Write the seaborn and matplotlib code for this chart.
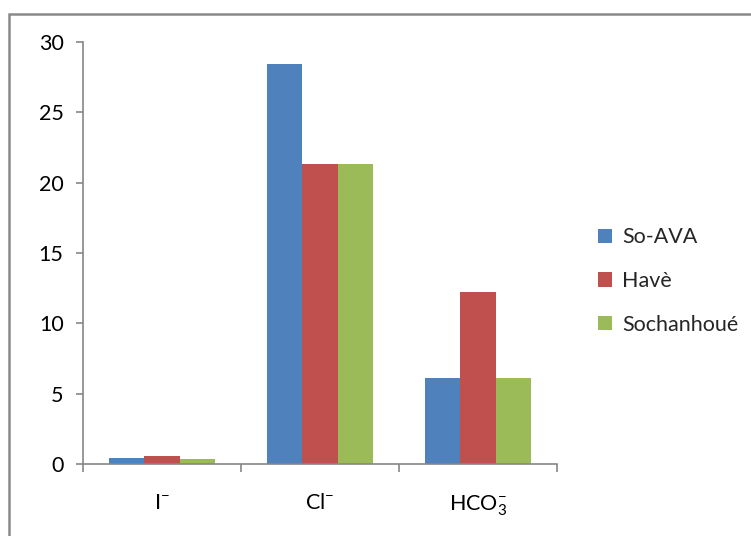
import matplotlib
matplotlib.use("Agg")
import matplotlib.pyplot as plt
import seaborn as sns
import pandas as pd
from matplotlib.patches import Rectangle, Patch

categories = ["I", "Cl", "HCO3"]
tick_labels = [r"I$^{-}$", r"Cl$^{-}$", r"HCO$_3^{-}$"]
series_names = ["So-AVA", "Havè", "Sochanhoué"]
so_ava = [0.45, 28.45, 6.1]
have = [0.55, 21.3, 12.2]
sochanhoue = [0.35, 21.3, 6.1]
colors = ["#4F81BD", "#C0504D", "#9BBB59"]

rows = []
for name, vals in zip(series_names, [so_ava, have, sochanhoue]):
    for c, v in zip(categories, vals):
        rows.append({"cat": c, "serie": name, "val": v})
df = pd.DataFrame(rows)

sns.set_theme(style="white")
plt.rcParams["font.family"] = ["Lato", "DejaVu Sans"]
plt.rcParams["mathtext.fontset"] = "custom"
plt.rcParams["mathtext.rm"] = "Lato"
plt.rcParams["mathtext.it"] = "Lato"
plt.rcParams["mathtext.bf"] = "Lato"

fig = plt.figure(figsize=(7.51, 5.36), dpi=100)
ax = fig.add_axes([83/751, 72/536, (557-83)/751, (464-42)/536])

sns.barplot(data=df, x="cat", y="val", hue="serie", order=categories,
            hue_order=series_names, palette=colors, width=0.665, gap=0,
            saturation=1, errorbar=None, ax=ax, legend=False, linewidth=0)

ax.set_ylim(0, 30)
ax.set_xlim(-0.5, 2.5)
ax.set_yticks([0, 5, 10, 15, 20, 25, 30])
ax.set_xticks([0, 1, 2])
ax.set_xticklabels(tick_labels)
ax.set_xticks([-0.5, 0.5, 1.5, 2.5], minor=True)
ax.set_xlabel("")
ax.set_ylabel("")
gray = "#868686"
for s in ["top", "right"]:
    ax.spines[s].set_visible(False)
for s in ["left", "bottom"]:
    ax.spines[s].set_color(gray)
    ax.spines[s].set_linewidth(1.2)
ax.tick_params(axis="y", which="major", left=True, length=5, width=1.2,
               color=gray, labelsize=15.5, pad=9, labelcolor="black")
ax.tick_params(axis="x", which="major", bottom=False, length=0,
               labelsize=15.5, pad=21, labelcolor="black")
ax.tick_params(axis="x", which="minor", bottom=True, length=6, width=1.2,
               color=gray)
ax.grid(False)

handles = [Patch(facecolor=c, edgecolor="none", label=n)
           for c, n in zip(colors, series_names)]
leg = fig.legend(handles=handles, loc="upper left",
                 bbox_to_anchor=(579/751, (536-208)/536), frameon=False,
                 fontsize=15.5, handlelength=0.65, handleheight=0.65,
                 handletextpad=0.45, labelspacing=1.1)

fig.patches.append(Rectangle((9/751, -0.1), 1.2, (536-14)/536 + 0.1,
                             transform=fig.transFigure, fill=False,
                             edgecolor="#8a8a8a", linewidth=1.8, zorder=0))

fig.savefig("out.png", dpi=100, facecolor="white")
